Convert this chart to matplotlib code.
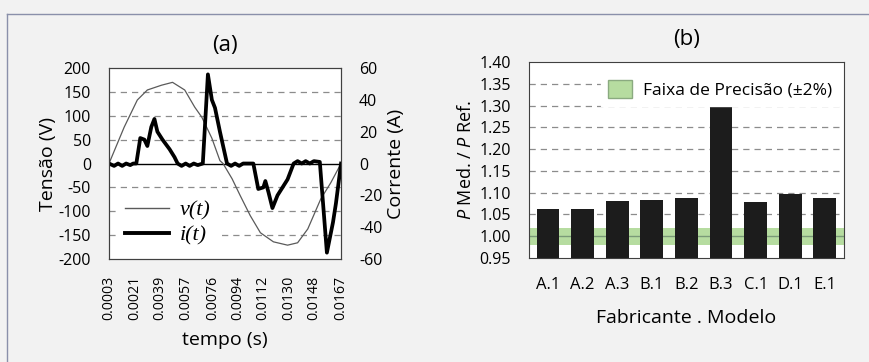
import matplotlib
matplotlib.use('Agg')
import matplotlib.pyplot as plt
from matplotlib.lines import Line2D
from matplotlib.patches import Patch

plt.rcParams['font.family'] = ['Open Sans', 'DejaVu Sans']
plt.rcParams['mathtext.fontset'] = 'custom'
plt.rcParams['mathtext.it'] = 'Open Sans:italic'
plt.rcParams['mathtext.rm'] = 'Open Sans'
plt.rcParams['axes.unicode_minus'] = False

# (a) tensao e corrente ao longo de um ciclo
t_v = [0.0003, 0.00137, 0.00230, 0.00301, 0.00401, 0.00479, 0.00565, 0.00636,
       0.00686, 0.00757, 0.00814, 0.00836, 0.00900, 0.00957, 0.01028, 0.01100,
       0.01192, 0.01292, 0.01363, 0.01435, 0.01527, 0.01598, 0.0167]
tensao = [0, 76, 133, 154, 164, 170, 154, 118, 97, 53, 6, 0, -32, -67, -109,
          -145, -164, -171, -166, -137, -74, -40, 0]

t_i = [0.0003, 0.00066, 0.00094, 0.00123, 0.00151, 0.00180, 0.00201, 0.00223,
       0.00251, 0.00280, 0.00301, 0.00329, 0.00351, 0.00372, 0.00408, 0.00458,
       0.00493, 0.00515, 0.00543, 0.00572, 0.00600, 0.00629, 0.00657, 0.00693,
       0.00729, 0.00757, 0.00779, 0.00814, 0.00864, 0.00893, 0.00921, 0.00950,
       0.00978, 0.01007, 0.01050, 0.01085, 0.01121, 0.01135, 0.01157, 0.01185,
       0.01221, 0.01292, 0.01335, 0.01363, 0.01392, 0.01420, 0.01449, 0.01478,
       0.01520, 0.01570, 0.01613, 0.01634, 0.0167]
corrente = [0, -1.5, 0, -1.5, 0, -1, 0, 0, 16, 15, 11, 23, 28, 20, 15, 9, 4, 0,
            -1.5, 0, -1.5, 0, -1, 0, 56, 40, 35, 20, 0, -1.5, 0, -1.5, 0, 0, 0,
            -16, -15, -11, -18, -28, -20, -10, 0, 1.5, 0, 1.5, 0, 1.5, 1, -56,
            -37, -25, 0]

t_ticks = [0.0003, 0.0021, 0.0039, 0.0057, 0.0076, 0.0094, 0.0112, 0.0130,
           0.0148, 0.0167]

# (b) razao de potencia por modelo
modelos = ['A.1', 'A.2', 'A.3', 'B.1', 'B.2', 'B.3', 'C.1', 'D.1', 'E.1']
razao = [1.063, 1.063, 1.080, 1.083, 1.087, 1.302, 1.079, 1.097, 1.087]

fig = plt.figure(figsize=(8.7, 3.62), dpi=100, facecolor='#f2f2f2')
fig.add_artist(Line2D([0.008, 1], [0.961, 0.961], color='#8a90aa', lw=1))
fig.add_artist(Line2D([0.008, 0.008], [0, 0.961], color='#8a90aa', lw=1))

# ---- painel (a)
ax = fig.add_axes([0.1253, 0.2845, 0.2667, 0.5276])
ax.set_facecolor('white')
ax.plot(t_v, tensao, color='#5a5a5a', lw=0.9)
ax.set_xlim(0.0003, 0.0167)
ax.set_ylim(-200, 200)
ax.set_yticks(range(-200, 201, 50))
for y in [-150, -100, -50, 50, 100, 150]:
    ax.axhline(y, color='#8c8c8c', lw=0.9, ls=(0, (5, 4)), zorder=0)
ax.axhline(0, color='black', lw=1, zorder=1)
ax.set_xticks(t_ticks)
ax.set_xticklabels(['%.4f' % v for v in t_ticks], rotation=90)
ax.tick_params(axis='x', length=0, pad=12, labelsize=10.2)
ax.tick_params(axis='y', length=0, pad=13, labelsize=11.5)
ax.set_ylabel('Tensão (V)', fontsize=14, labelpad=1)
ax.set_xlabel('tempo (s)', fontsize=14, labelpad=8)
ax.set_title('(a)', fontsize=16, pad=12)

ax2 = ax.twinx()
ax2.plot(t_i, corrente, color='black', lw=2.7)
ax2.set_ylim(-60, 60)
ax2.set_yticks(range(-60, 61, 20))
ax2.tick_params(axis='y', length=0, pad=13, labelsize=11.5)
ax2.set_ylabel('Corrente (A)', fontsize=14, labelpad=3)
for a in (ax, ax2):
    for s in a.spines.values():
        s.set_color('#404040')

leg_handles = [Line2D([], [], color='#5a5a5a', lw=1.0),
               Line2D([], [], color='black', lw=2.8)]
ax2.legend(leg_handles, ['v(t)', 'i(t)'], loc='lower left',
           bbox_to_anchor=(0.0, -0.01), frameon=True, fancybox=False,
           edgecolor='white', framealpha=1, handlelength=2.0,
           handletextpad=0.5, labelspacing=0.2, borderaxespad=0.3,
           prop={'family': 'Liberation Serif', 'style': 'italic', 'size': 16})

# ---- painel (b)
bx = fig.add_axes([0.608, 0.2873, 0.362, 0.5414])
bx.set_facecolor('white')
bx.axhspan(0.98, 1.02, color='#b6dca0', zorder=0, lw=0)
for y in [1.05, 1.10, 1.15, 1.20, 1.25, 1.30, 1.35]:
    bx.axhline(y, color='#8c8c8c', lw=0.9, ls=(0, (5, 4)), zorder=0.5)
bx.axhline(1.0, color='#7a9a78', lw=1, zorder=0.6)
bx.bar(range(len(modelos)), razao, width=0.66, color='#1c1c1c', zorder=2)
bx.set_ylim(0.95, 1.40)
bx.set_xlim(-0.55, len(modelos) - 0.45)
bx.set_yticks([0.95 + 0.05 * k for k in range(10)])
bx.set_yticklabels(['%.2f' % (0.95 + 0.05 * k) for k in range(10)])
bx.set_xticks(range(len(modelos)))
bx.set_xticklabels(modelos)
bx.tick_params(axis='x', length=0, pad=14, labelsize=12)
bx.tick_params(axis='y', length=0, pad=13, labelsize=11.5)
bx.set_ylabel('$P$ Med. / $P$ Ref.', fontsize=13, labelpad=3)
bx.set_xlabel('Fabricante . Modelo', fontsize=14, labelpad=11)
bx.set_title('(b)', fontsize=16, pad=12)
for s in bx.spines.values():
    s.set_color('#404040')
bx.legend([Patch(facecolor='#b6dca0', edgecolor='#8aaa80')],
          ['Faixa de Precisão (±2%)'], loc='upper right',
          bbox_to_anchor=(1.0, 0.97), frameon=True,
          fancybox=False, edgecolor='white', framealpha=1, fontsize=12.5,
          handlelength=1.4, handleheight=1.2, handletextpad=0.6,
          borderaxespad=0.3)

fig.savefig('out.png', dpi=100, facecolor=fig.get_facecolor())
